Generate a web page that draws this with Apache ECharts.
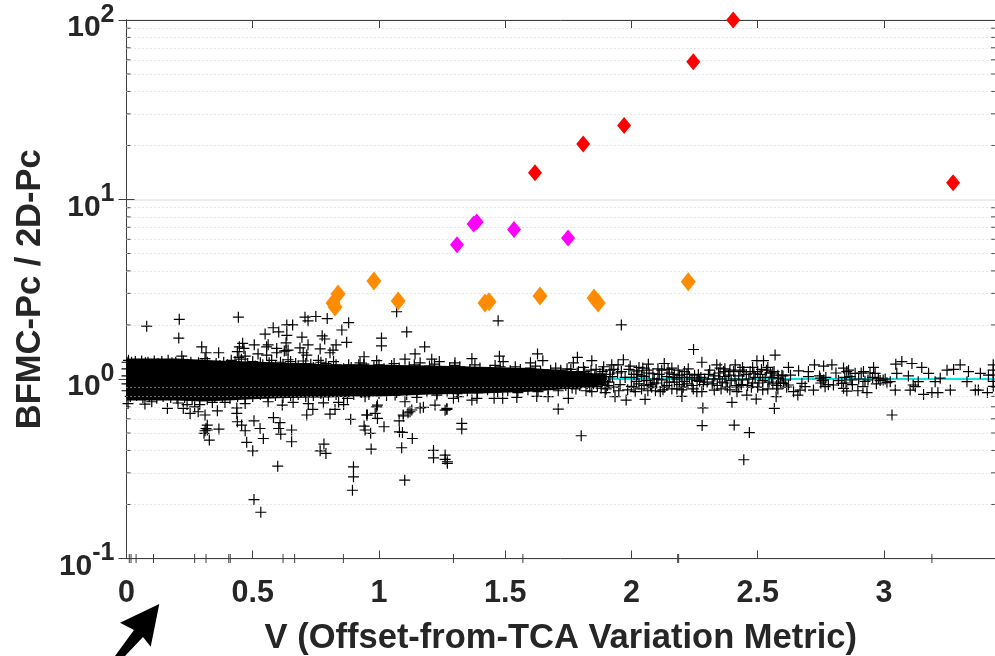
<!DOCTYPE html>
<html>
<head>
<meta charset="utf-8">
<title>BFMC-Pc / 2D-Pc</title>
<script src="https://cdn.jsdelivr.net/npm/echarts@6/dist/echarts.min.js"></script>
<style>
  html, body { margin: 0; padding: 0; background: #fff; }
  #chart { width: 995px; height: 656px; }
</style>
</head>
<body>
<div id="chart"></div>
<script>
// all values, [V, ratio]
const redPoints = [[2.403, 100], [2.245, 58.6], [1.971, 25.8], [1.809, 20.4], [1.618, 14.1], [3.274, 12.4]];
const magentaPoints = [[1.309, 5.6], [1.375, 7.3], [1.387, 7.5], [1.535, 6.8], [1.749, 6.1]];
const orangePoints = [
  [0.818, 2.65], [0.838, 2.98], [0.826, 2.52], [0.98, 3.52], [1.076, 2.72], [1.42, 2.65],
  [1.436, 2.69], [1.638, 2.9], [1.852, 2.83], [1.868, 2.65], [2.225, 3.48]
];

// the core of the cloud is solid black up to V~1.9, single marks can't be read there,
// so it is drawn as an envelope read at these stations
const bandV = [0, 0.1, 0.2, 0.3, 0.4, 0.5, 0.6, 0.7, 0.8, 0.9, 1.0, 1.2, 1.4, 1.6, 1.8, 1.9];
const bandTop = [1.3, 1.3, 1.3, 1.28, 1.26, 1.25, 1.23, 1.22, 1.21, 1.2, 1.2, 1.19, 1.17, 1.15, 1.1, 1.05];
const bandBottom = [0.76, 0.76, 0.76, 0.75, 0.76, 0.77, 0.78, 0.785, 0.79, 0.8, 0.8, 0.82, 0.83, 0.85, 0.89, 0.93];

const topFringe = [
  [0.002, 1.24], [0.002, 1.14], [0.002, 1.04], [0.002, 0.94], [0.002, 0.86], [0.02, 1.24], [0.05, 1.21], [0.075, 1.23],
  [0.1, 1.2], [0.125, 1.22], [0.155, 1.19], [0.18, 1.23], [0.21, 1.2], [0.24, 1.21], [0.27, 1.18], [0.3, 1.2],
  [0.335, 1.17], [0.37, 1.19], [0.4, 1.2], [0.43, 1.25], [0.455, 1.29], [0.48, 1.22], [0.51, 1.18], [0.54, 1.2],
  [0.565, 1.23], [0.59, 1.17], [0.62, 1.21], [0.65, 1.25], [0.68, 1.18], [0.71, 1.22], [0.74, 1.16], [0.77, 1.24],
  [0.8, 1.17], [0.83, 1.2], [0.86, 1.14], [0.89, 1.16], [0.92, 1.2], [0.95, 1.15], [0.98, 1.17], [1.02, 1.14],
  [1.05, 1.19], [1.08, 1.15], [1.12, 1.17], [1.16, 1.13], [1.2, 1.18], [1.24, 1.14], [1.28, 1.16], [1.32, 1.17],
  [1.36, 1.13], [1.4, 1.15], [1.44, 1.12], [1.48, 1.17], [1.52, 1.11], [1.56, 1.13], [1.6, 1.15], [1.64, 1.1],
  [1.68, 1.12], [1.72, 1.09], [1.76, 1.13]
];
const topFringeHigh = [
  [0.008, 1.27], [0.035, 1.25], [0.06, 1.26], [0.085, 1.24], [0.11, 1.26], [0.14, 1.25], [0.165, 1.27], [0.195, 1.24],
  [0.225, 1.26], [0.255, 1.24], [0.285, 1.23], [0.32, 1.24], [0.355, 1.22], [0.385, 1.24], [0.415, 1.27], [0.445, 1.32],
  [0.47, 1.34], [0.5, 1.25], [0.53, 1.23], [0.575, 1.27], [0.61, 1.24], [0.64, 1.28], [0.67, 1.22], [0.7, 1.26],
  [0.73, 1.21], [0.76, 1.27], [0.79, 1.22], [0.82, 1.25], [0.88, 1.2], [0.94, 1.21], [1.0, 1.2], [1.06, 1.22],
  [1.14, 1.2], [1.22, 1.21], [1.3, 1.19], [1.38, 1.2], [1.46, 1.19], [1.54, 1.17], [1.62, 1.18], [1.7, 1.15]
];
const bottomFringe = [
  [0.015, 0.8], [0.04, 0.81], [0.065, 0.79], [0.09, 0.8], [0.12, 0.78], [0.145, 0.8], [0.175, 0.79], [0.2, 0.78],
  [0.23, 0.79], [0.26, 0.77], [0.29, 0.78], [0.32, 0.77], [0.35, 0.79], [0.38, 0.8], [0.41, 0.78], [0.44, 0.8],
  [0.47, 0.79], [0.5, 0.8], [0.53, 0.82], [0.56, 0.8], [0.59, 0.81], [0.62, 0.79], [0.65, 0.81], [0.68, 0.82],
  [0.71, 0.8], [0.74, 0.81], [0.77, 0.83], [0.8, 0.81], [0.83, 0.82], [0.86, 0.8], [0.9, 0.82], [0.93, 0.84],
  [0.96, 0.82], [1.0, 0.83], [1.03, 0.81], [1.07, 0.84], [1.11, 0.82], [1.15, 0.84], [1.19, 0.85], [1.23, 0.83],
  [1.27, 0.85], [1.31, 0.83], [1.35, 0.86], [1.39, 0.84], [1.43, 0.87], [1.47, 0.85], [1.51, 0.86], [1.55, 0.84],
  [1.59, 0.87], [1.63, 0.85], [1.67, 0.88], [1.71, 0.86], [1.75, 0.89]
];

const upperOutliers = [
  [0.08, 1.97], [0.209, 2.15], [0.207, 1.69], [0.443, 2.21], [0.298, 1.51], [0.315, 1.4], [0.365, 1.4], [0.707, 2.21],
  [0.719, 2.11], [0.75, 2.23], [0.795, 2.17], [0.581, 1.93], [0.603, 1.83], [0.635, 2.0], [0.658, 2.0], [0.549, 1.78],
  [0.635, 1.75], [0.695, 1.71], [0.775, 1.74], [0.785, 1.67], [0.506, 1.55], [0.555, 1.51], [0.719, 1.55], [0.83, 1.55],
  [0.46, 1.58], [0.447, 1.51], [0.465, 1.48], [0.439, 1.42], [0.632, 1.59], [0.632, 1.44], [0.64, 1.45], [0.625, 1.43],
  [0.595, 1.48], [0.595, 1.4], [0.687, 1.49], [0.7, 1.4], [0.767, 1.47], [0.806, 1.4], [0.818, 1.45], [0.561, 1.55],
  [0.521, 1.38], [0.555, 1.36], [0.714, 1.36], [0.311, 1.3], [0.219, 1.34], [0.88, 2.06], [0.853, 1.875], [0.872, 1.6],
  [1.01, 1.69], [1.01, 1.53], [1.11, 1.83], [1.181, 1.51], [1.07, 2.37], [1.472, 2.11], [1.143, 1.38], [0.941, 1.33],
  [0.991, 1.265], [1.103, 1.29], [1.209, 1.29], [1.477, 1.34], [1.628, 1.38], [1.649, 1.265], [1.368, 1.3], [1.239, 1.25],
  [1.492, 1.25], [1.163, 1.23], [1.301, 1.23], [1.6, 1.23], [0.925, 1.23], [1.96, 2.0], [2.246, 1.46]
];
const lowerOutliers = [
  [0.875, 0.78], [0.945, 0.797], [1.064, 0.814], [1.15, 0.79], [1.229, 0.814], [1.295, 0.78], [1.315, 0.797], [1.368, 0.763],
  [1.388, 0.78], [1.456, 0.78], [1.49, 0.78], [1.546, 0.79], [1.625, 0.8], [1.67, 0.797], [1.103, 0.747], [0.991, 0.7],
  [1.222, 0.716], [1.176, 0.695], [1.269, 0.686], [1.262, 0.67], [1.163, 0.69], [1.13, 0.672], [1.115, 0.648], [1.096, 0.63],
  [0.985, 0.643], [0.954, 0.63], [1.71, 0.68], [0.888, 0.596], [0.994, 0.716], [0.951, 0.63], [0.994, 0.603], [0.941, 0.547],
  [0.945, 0.52], [0.967, 0.498], [1.02, 0.542], [1.08, 0.585], [1.097, 0.622], [1.123, 0.657], [1.081, 0.508], [1.093, 0.504],
  [1.132, 0.466], [0.969, 0.407], [1.09, 0.414], [1.216, 0.4], [1.216, 0.364], [1.262, 0.377], [1.262, 0.357], [1.271, 0.346],
  [1.271, 0.339], [1.328, 0.566], [1.328, 0.526], [0.899, 0.324], [0.899, 0.285], [0.895, 0.24], [1.102, 0.273], [1.269, 0.677],
  [0.162, 0.686], [0.225, 0.686], [0.252, 0.643], [0.284, 0.657], [0.311, 0.63], [0.36, 0.665], [0.32, 0.554], [0.315, 0.53],
  [0.311, 0.515], [0.307, 0.498], [0.32, 0.52], [0.366, 0.526], [0.328, 0.457], [0.437, 0.643], [0.439, 0.578], [0.456, 0.554],
  [0.47, 0.515], [0.505, 0.585], [0.476, 0.444], [0.5, 0.398], [0.529, 0.53], [0.542, 0.466], [0.582, 0.61], [0.608, 0.571],
  [0.603, 0.53], [0.611, 0.493], [0.654, 0.52], [0.654, 0.447], [0.599, 0.327], [0.505, 0.213], [0.532, 0.181], [0.767, 0.398],
  [0.782, 0.434], [0.79, 0.385], [0.714, 0.63], [0.738, 0.677], [0.806, 0.638], [0.826, 0.677], [0.437, 0.69], [0.617, 0.716],
  [0.561, 0.747], [0.073, 0.725], [0.006, 0.73], [0.78, 0.737], [0.1, 0.747], [0.204, 0.735], [0.27, 0.7], [0.24, 0.72],
  [0.29, 0.72], [0.34, 0.74], [0.39, 0.74], [0.47, 0.73], [0.66, 0.74], [0.72, 0.73], [0.84, 0.74], [0.86, 0.72],
  [2.28, 0.55], [2.445, 0.355]
];

// V 1.7 to 2.6, marks start to separate here
const midCloud = [
  [1.72, 1.12], [1.74, 0.92], [1.75, 0.78], [1.76, 1.05], [1.77, 1.23], [1.78, 0.88], [1.786, 1.32], [1.79, 1.1],
  [1.8, 0.97], [1.81, 1.16], [1.82, 0.86], [1.83, 1.03], [1.843, 1.265], [1.843, 0.85], [1.85, 0.94], [1.86, 1.13],
  [1.87, 1.0], [1.88, 0.89], [1.89, 1.17], [1.896, 0.84], [1.9, 1.06], [1.91, 0.96], [1.922, 1.2], [1.93, 0.9],
  [1.935, 0.797], [1.945, 1.08], [1.947, 1.2], [1.955, 0.93], [1.968, 1.28], [1.975, 1.02], [1.979, 0.763], [1.99, 1.13],
  [2.0, 0.91], [2.01, 1.06], [2.02, 0.97], [2.03, 1.16], [2.04, 0.88], [2.054, 0.77], [2.05, 1.03], [2.06, 1.12],
  [2.067, 1.21], [2.075, 0.93], [2.085, 1.07], [2.095, 0.86], [2.105, 1.14], [2.114, 0.85], [2.12, 0.99], [2.13, 1.22],
  [2.14, 0.92], [2.15, 1.08], [2.16, 1.15], [2.17, 0.96], [2.18, 0.88], [2.19, 1.05], [2.2, 0.8], [2.2, 0.87],
  [2.21, 1.1], [2.22, 0.94], [2.23, 1.02], [2.24, 0.92], [2.25, 1.05], [2.259, 0.85], [2.27, 0.97], [2.279, 1.24],
  [2.279, 0.85], [2.283, 0.69], [2.29, 1.0], [2.305, 1.06], [2.32, 0.94], [2.328, 0.868], [2.338, 1.2],
  [2.345, 1.08], [2.351, 1.15], [2.36, 0.96], [2.37, 1.03], [2.38, 0.9], [2.39, 1.12], [2.398, 0.74], [2.407, 0.554],
  [2.411, 1.2], [2.418, 0.85], [2.425, 1.04], [2.435, 0.93], [2.445, 1.1], [2.457, 0.814], [2.467, 0.503], [2.465, 1.0],
  [2.475, 0.9], [2.485, 1.07], [2.494, 0.773], [2.497, 1.265], [2.505, 0.95], [2.515, 1.13], [2.523, 1.265], [2.53, 1.02],
  [2.54, 0.88], [2.55, 1.08], [2.56, 0.94], [2.566, 0.686], [2.569, 1.36], [2.573, 0.797], [2.58, 1.05], [1.801, 0.483]
];
// second and third pass over the busy part of that stretch
const midCloudDense = [
  [1.73, 1.04], [1.745, 1.14], [1.755, 0.96], [1.765, 0.89], [1.775, 1.0], [1.785, 1.08], [1.795, 0.92], [1.805, 1.03],
  [1.815, 1.1], [1.825, 0.94], [1.835, 0.9], [1.84, 1.12], [1.855, 1.04], [1.865, 0.91], [1.875, 1.07], [1.885, 1.1],
  [1.895, 0.97], [1.905, 0.92], [1.915, 1.12], [1.925, 1.03], [2.0, 1.02], [2.01, 0.9], [2.02, 1.11], [2.03, 0.94],
  [2.04, 1.04], [2.05, 0.92], [2.06, 0.98], [2.07, 1.08], [2.08, 0.9], [2.09, 1.0], [2.1, 0.95], [2.11, 1.06],
  [2.12, 1.12], [2.13, 0.9], [2.14, 1.03], [2.15, 0.96], [2.16, 0.88], [2.17, 1.06], [2.18, 1.0], [2.19, 0.93],
  [2.2, 1.02], [2.21, 0.97], [2.22, 1.06], [2.24, 1.0], [2.26, 0.98], [2.275, 1.02], [2.3, 0.96], [2.33, 1.04],
  [2.34, 0.92], [2.35, 1.0], [2.365, 1.1], [2.375, 0.95], [2.385, 1.05], [2.395, 0.98], [2.405, 1.1], [2.415, 0.92],
  [2.43, 1.12], [2.44, 0.99], [2.455, 1.06], [2.47, 1.1], [2.48, 0.95], [2.49, 1.02], [2.5, 0.9], [2.51, 1.06],
  [2.52, 0.98], [2.535, 1.12], [2.545, 0.96], [2.555, 1.02], [2.565, 1.1], [2.575, 0.92]
];
const midCloudThird = [
  [1.9, 0.88], [1.915, 1.03], [1.93, 1.13], [1.95, 0.86], [1.96, 1.1], [1.985, 0.87], [1.995, 1.18], [2.015, 0.85],
  [2.025, 1.06], [2.045, 1.15], [2.065, 0.86], [2.085, 0.95], [2.105, 1.0], [2.125, 0.87], [2.145, 1.13], [2.165, 1.02],
  [2.185, 1.12], [2.205, 0.9], [2.225, 1.14], [2.245, 0.88], [2.265, 1.06], [2.285, 0.93], [2.31, 1.12], [2.325, 1.0],
  [2.355, 0.88], [2.37, 1.14], [2.39, 0.87], [2.41, 1.0], [2.425, 0.9], [2.44, 1.16], [2.46, 0.92], [2.48, 1.16],
  [2.5, 1.1], [2.52, 0.87], [2.54, 1.16], [2.56, 1.08], [2.58, 0.88]
];
const rightTail = [
  [2.582, 1.01], [2.596, 1.05], [2.602, 0.946], [2.609, 0.987], [2.622, 1.16], [2.622, 0.926], [2.642, 0.85], [2.659, 0.814],
  [2.662, 1.11], [2.668, 0.868], [2.675, 0.946], [2.688, 0.906], [2.701, 1.1], [2.701, 1.03], [2.721, 0.868], [2.725, 1.2],
  [2.748, 1.01], [2.755, 0.98], [2.761, 1.18], [2.761, 0.987], [2.767, 0.906], [2.794, 1.2], [2.8, 0.926], [2.833, 0.946],
  [2.84, 1.15], [2.84, 0.887], [2.853, 1.1], [2.853, 0.857], [2.866, 1.03], [2.873, 0.987], [2.886, 1.076], [2.897, 0.86],
  [2.917, 0.906], [2.919, 1.1], [2.933, 0.84], [2.937, 0.987], [2.959, 1.16], [2.965, 1.076], [2.978, 1.01], [2.997, 0.987],
  [3.012, 0.954], [3.025, 0.966], [3.032, 0.63], [3.045, 0.868], [3.047, 1.21], [3.051, 1.076], [3.071, 1.25], [3.097, 1.04],
  [3.104, 0.868], [3.111, 1.22], [3.116, 0.926], [3.124, 0.906], [3.136, 0.966], [3.15, 1.16], [3.157, 0.82], [3.177, 1.076],
  [3.19, 0.84], [3.203, 0.966], [3.214, 0.84], [3.223, 1.01], [3.25, 1.12], [3.263, 0.868], [3.276, 1.13], [3.302, 1.2],
  [3.329, 0.966], [3.335, 1.1], [3.362, 0.868], [3.374, 0.868], [3.382, 1.076], [3.41, 0.84], [3.414, 1.05], [3.433, 1.2],
  [3.433, 1.12], [3.433, 1.05], [3.433, 0.97], [3.433, 0.91],
  [2.59, 0.96], [2.6, 1.04], [2.615, 0.9], [2.63, 1.05], [2.745, 1.04], [2.75, 0.95], [2.77, 1.02], [2.78, 0.93],
  [2.81, 1.08], [2.82, 0.98], [2.845, 1.02], [2.85, 0.95], [2.86, 1.12], [2.875, 0.93], [2.9, 1.0], [2.91, 1.08],
  [2.925, 0.97], [2.945, 1.08], [2.955, 1.02], [2.97, 0.94], [2.985, 0.98], [3.005, 1.0]
];

const fitLine = [[1.88, 1.0], [3.44, 1.0]];

const minorGridValues = [0.2, 0.3, 0.4, 0.5, 0.6, 0.7, 0.8, 0.9, 2, 3, 4, 5, 6, 7, 8, 9, 20, 30, 40, 50, 60, 70, 80, 90];
const rugValues = [0.011, 0.018, 0.038, 0.107, 0.27, 0.315, 0.405, 0.411, 0.62, 0.666, 0.859, 1.295, 1.57, 2.183, 2.187, 3.19];
const V_MAX = 3.44;

const TEXT = '#262626';
const AXIS = '#404040';
const CROSS = 'path://M0 5H10M5 0V10';

const crossSeries = (name, data) => ({
  name,
  type: 'scatter',
  data,
  symbol: CROSS,
  symbolSize: 11,
  clip: false,
  silent: true,
  z: 4,
  itemStyle: { color: 'none', borderColor: '#000', borderWidth: 1.2, opacity: 1 },
});

const diamondSeries = (name, data, color, size) => ({
  name,
  type: 'scatter',
  data,
  symbol: 'diamond',
  symbolSize: size,
  silent: true,
  clip: false,
  z: 6,
  itemStyle: { color, opacity: 1 },
});

const chart = echarts.init(document.getElementById('chart'), null, { renderer: 'canvas' });

chart.setOption({
  animation: false,
  backgroundColor: '#fff',
  textStyle: { fontFamily: '"Liberation Sans", Arial, sans-serif' },
  grid: { left: 126.5, right: 0, top: 20, bottom: 97.5, outerBoundsMode: 'none' },
  xAxis: [
    {
      type: 'value',
      min: 0,
      max: V_MAX,
      interval: 0.5,
      name: 'V (Offset-from-TCA Variation Metric)',
      nameLocation: 'middle',
      nameGap: 62,
      nameTextStyle: { color: TEXT, fontSize: 34.5, fontWeight: 'bold' },
      axisLine: { lineStyle: { color: AXIS, width: 1 } },
      axisTick: { inside: true, length: 8, lineStyle: { color: AXIS } },
      splitLine: { show: false },
      axisLabel: { color: TEXT, fontSize: 30.5, fontWeight: 'bold', margin: 20, showMaxLabel: false },
    },
    {
      type: 'value',
      position: 'top',
      min: 0,
      max: V_MAX,
      interval: 0.5,
      axisLine: { lineStyle: { color: AXIS, width: 1 } },
      axisTick: { inside: true, length: 8, lineStyle: { color: AXIS } },
      axisLabel: { show: false },
      splitLine: { show: false },
    },
  ],
  yAxis: [
    {
      type: 'log',
      logBase: 10,
      min: 0.1,
      max: 100,
      name: 'BFMC-Pc / 2D-Pc',
      nameLocation: 'middle',
      nameGap: 78,
      nameTextStyle: { color: TEXT, fontSize: 34.5, fontWeight: 'bold' },
      axisLine: { show: true, lineStyle: { color: AXIS, width: 1 } },
      axisTick: { show: true, inside: true, length: 8, lineStyle: { color: AXIS } },
      splitLine: { show: true, lineStyle: { color: '#ececec', width: 2 } },
      axisLabel: {
        margin: 12,
        formatter: v => `{b|10}{s|${Math.round(Math.log10(v))}}`,
        rich: {
          b: { color: TEXT, fontSize: 30, fontWeight: 'bold', padding: [16, 0, 0, 0] },
          s: { color: TEXT, fontSize: 25, fontWeight: 'bold', padding: [0, 0, 10, 0] },
        },
      },
    },
    {
      type: 'log',
      logBase: 10,
      position: 'right',
      min: 0.1,
      max: 100,
      axisLine: { show: true, lineStyle: { color: AXIS, width: 1 } },
      axisTick: { show: true, inside: true, length: 8, lineStyle: { color: AXIS } },
      axisLabel: { show: false },
      splitLine: { show: false },
    },
  ],
  series: [
    {
      name: 'minor grid',
      type: 'line',
      data: [],
      silent: true,
      z: 1,
      markLine: {
        silent: true,
        symbol: 'none',
        label: { show: false },
        animation: false,
        lineStyle: { color: '#cfcfcf', type: [1, 3], width: 1 },
        data: minorGridValues.map(v => ({ yAxis: v })),
      },
    },
    {
      name: 'left minor ticks',
      type: 'scatter',
      data: minorGridValues.map(v => [0, v]),
      symbol: 'rect',
      symbolSize: [4, 1],
      symbolOffset: [2, 0],
      clip: false,
      silent: true,
      z: 2,
      itemStyle: { color: AXIS, opacity: 1 },
    },
    {
      name: 'right minor ticks',
      type: 'scatter',
      data: minorGridValues.map(v => [V_MAX, v]),
      symbol: 'rect',
      symbolSize: [4, 1],
      symbolOffset: [-2, 0],
      clip: false,
      silent: true,
      z: 2,
      itemStyle: { color: AXIS, opacity: 1 },
    },
    {
      name: 'rug',
      type: 'scatter',
      data: rugValues.map(v => [v, 0.1]),
      symbol: 'rect',
      symbolSize: [1, 9],
      clip: false,
      silent: true,
      z: 3,
      itemStyle: { color: AXIS, opacity: 1 },
    },
    {
      name: 'fit',
      type: 'line',
      data: fitLine,
      showSymbol: false,
      silent: true,
      z: 3,
      lineStyle: { color: '#00e8e8', width: 2 },
    },
    {
      name: 'dense core',
      type: 'custom',
      data: [[0, 1]],
      silent: true,
      clip: false,
      z: 4,
      renderItem: (params, api) => {
        const upper = bandV.map((v, i) => api.coord([v, bandTop[i]]));
        const lower = bandV.map((v, i) => api.coord([v, bandBottom[i]])).reverse();
        return {
          type: 'polygon',
          shape: { points: upper.concat(lower) },
          style: { fill: '#000' },
        };
      },
    },
    crossSeries('top fringe', topFringe),
    crossSeries('top fringe high', topFringeHigh),
    crossSeries('bottom fringe', bottomFringe),
    crossSeries('upper outliers', upperOutliers),
    crossSeries('lower outliers', lowerOutliers),
    crossSeries('mid cloud', midCloud),
    crossSeries('mid cloud dense', midCloudDense),
    crossSeries('mid cloud third', midCloudThird),
    crossSeries('right tail', rightTail),
    diamondSeries('orange', orangePoints, '#ff8c00', [15, 19]),
    diamondSeries('magenta', magentaPoints, '#ff00ff', [14, 17]),
    diamondSeries('red', redPoints, '#ff0000', [14, 17]),
  ],
  // annotation arrow below the axis
  graphic: [
    {
      type: 'polygon',
      silent: true,
      shape: {
        points: [[159.3, 604], [120, 622.7], [134, 630], [115, 656], [125, 656], [143, 637], [150.7, 646.7]],
      },
      style: { fill: '#000' },
    },
  ],
});
</script>
</body>
</html>
